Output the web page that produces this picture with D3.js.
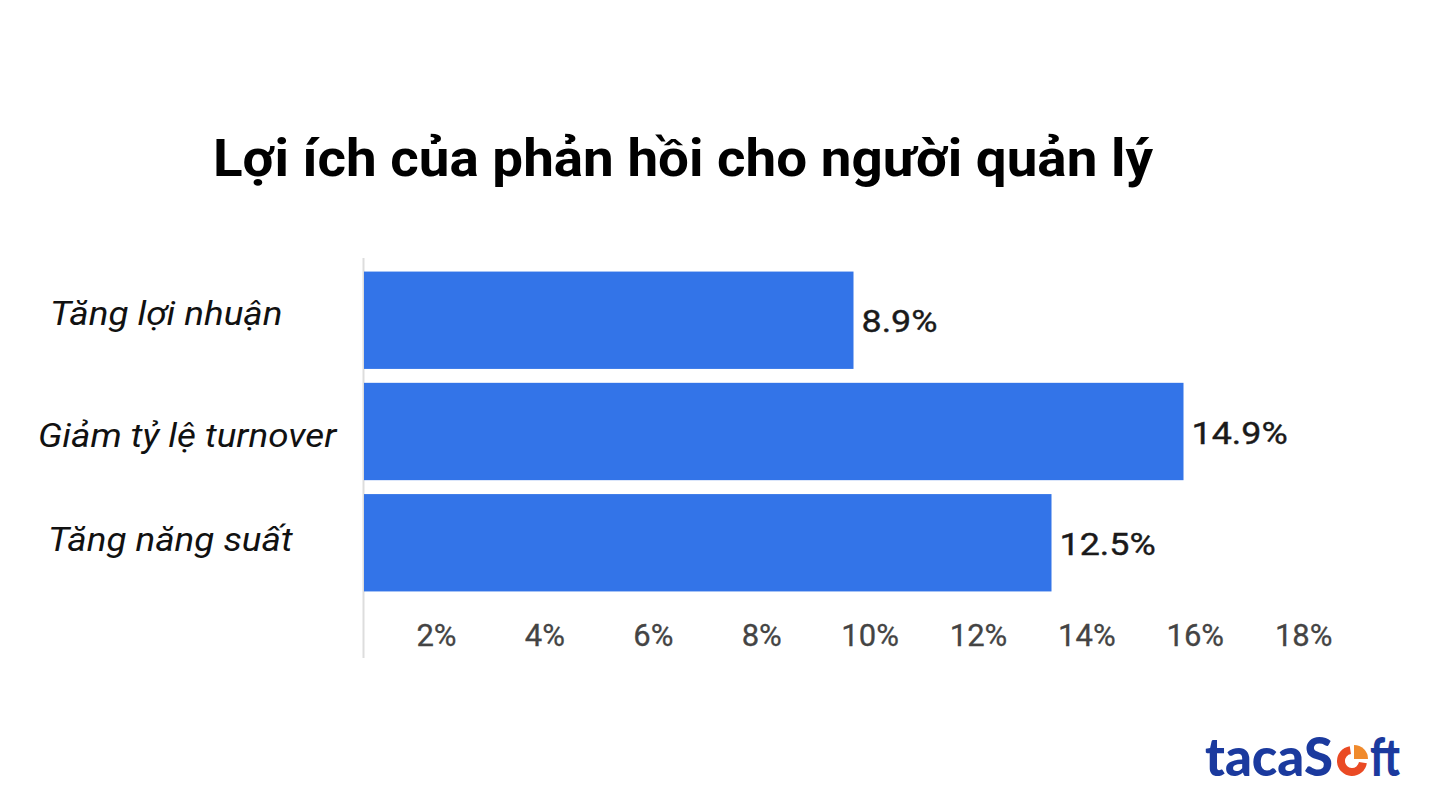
<!DOCTYPE html>
<html><head><meta charset="utf-8">
<script src="https://cdn.jsdelivr.net/npm/d3@7"></script>
<style>body{margin:0;background:#fff;}svg{display:block;}</style>
</head><body><svg id="c" width="1440" height="810"></svg>
<script>
const title = "Lợi ích của phản hồi cho người quản lý";
const categories = ["Tăng lợi nhuận", "Giảm tỷ lệ turnover", "Tăng năng suất"];
const values = [8.9, 14.9, 12.5];
const valueLabels = ["8.9%", "14.9%", "12.5%"];
const tickValues = [2, 4, 6, 8, 10, 12, 14, 16, 18];
const tickLabels = ["2%", "4%", "6%", "8%", "10%", "12%", "14%", "16%", "18%"];

function stretch(factor) {
  return sel => sel.each(function () {
    const len = this.getComputedTextLength();
    d3.select(this).attr("textLength", len * factor).attr("lengthAdjust", "spacingAndGlyphs");
  });
}

const svg = d3.select("#c");
const x = d3.scaleLinear().domain([0, 18]).range([364, 364 + 18 * 55]);
const xLabel = d3.scaleLinear().domain([0, 18]).range([327.6, 327.6 + 18 * 54.2]);
const y = d3.scaleBand().domain(categories).range([266, 597]).paddingInner(0.125).paddingOuter(0.05);

// title
svg.append("text").attr("x", 213).attr("y", 176)
  .attr("font-family", "Roboto").attr("font-weight", 700).attr("font-size", 52)
  .attr("fill", "#000").text(title)
  .attr("textLength", 940).attr("lengthAdjust", "spacingAndGlyphs");

// axis line
svg.append("line").attr("x1", 363.5).attr("x2", 363.5).attr("y1", 258).attr("y2", 658)
  .attr("stroke", "#ddd").attr("stroke-width", 2);

// bars
svg.selectAll("rect.bar").data(values).join("rect").attr("class", "bar")
  .attr("x", x(0)).attr("y", (d, i) => y(categories[i]))
  .attr("width", d => x(d) - x(0)).attr("height", y.bandwidth())
  .attr("fill", "#3374E8");

// value labels
svg.selectAll("text.val").data(values).join("text").attr("class", "val")
  .attr("x", d => x(d) + 8).attr("y", (d, i) => y(categories[i]) + y.bandwidth() / 2 + 12)
  .attr("font-family", "Roboto").attr("font-size", 32).attr("fill", "#1a1a1a")
  .attr("stroke", "#1a1a1a").attr("stroke-width", 0.4)
  .text((d, i) => valueLabels[i])
  .call(stretch(1.12));

// category labels
const catDy = [4.5, 15, 8.5];
svg.selectAll("text.cat").data(categories).join("text").attr("class", "cat")
  .attr("x", (d, i) => [50, 38, 48][i]).attr("y", (d, i) => y(d) + y.bandwidth() / 2 + catDy[i])
  .attr("font-family", "Roboto").attr("font-style", "italic").attr("font-size", 33)
  .attr("fill", "#111").text(d => d)
  .call(stretch(1.115));

// x axis tick labels
const axis = d3.axisBottom(xLabel).tickValues(tickValues).tickSize(0)
  .tickFormat((d, i) => tickLabels[i]);
const g = svg.append("g").attr("transform", "translate(0,612)").call(axis);
g.select(".domain").remove();
g.selectAll("text").attr("dy", 0).attr("y", 34)
  .attr("font-family", "Roboto").attr("font-size", 31).attr("fill", "#444")
  .attr("stroke", "#444").attr("stroke-width", 0.3)
  .call(stretch(1.0));

// logo
const logo = svg.append("g");
logo.append("text").attr("x", 1333).attr("y", 776).attr("text-anchor", "end")
  .attr("font-family", "Lato, 'Noto Sans'").attr("font-weight", 900).attr("font-size", 54)
  .attr("fill", "#1B3A9E").attr("textLength", 128).attr("lengthAdjust", "spacingAndGlyphs").text("tacaS");
logo.append("text").attr("x", 1370).attr("y", 776)
  .attr("font-family", "Lato, 'Noto Sans'").attr("font-weight", 900).attr("font-size", 54)
  .attr("fill", "#1B3A9E").attr("textLength", 30).attr("lengthAdjust", "spacingAndGlyphs").text("ft");
const cx = 1352, cy = 761, r = 12;
const arc = d3.arc().innerRadius(r - 5).outerRadius(r + 3);
logo.append("path").attr("transform", `translate(${cx},${cy})`)
  .attr("d", arc({startAngle: Math.PI / 2 + 0.15, endAngle: 2 * Math.PI - 0.15})).attr("fill", "#EA4A24");
logo.append("path").attr("transform", `translate(${cx + 2},${cy - 2})`)
  .attr("d", d3.arc().innerRadius(0).outerRadius(r + 2)({startAngle: 0, endAngle: Math.PI / 2})).attr("fill", "#F08A2C");
</script></body></html>
